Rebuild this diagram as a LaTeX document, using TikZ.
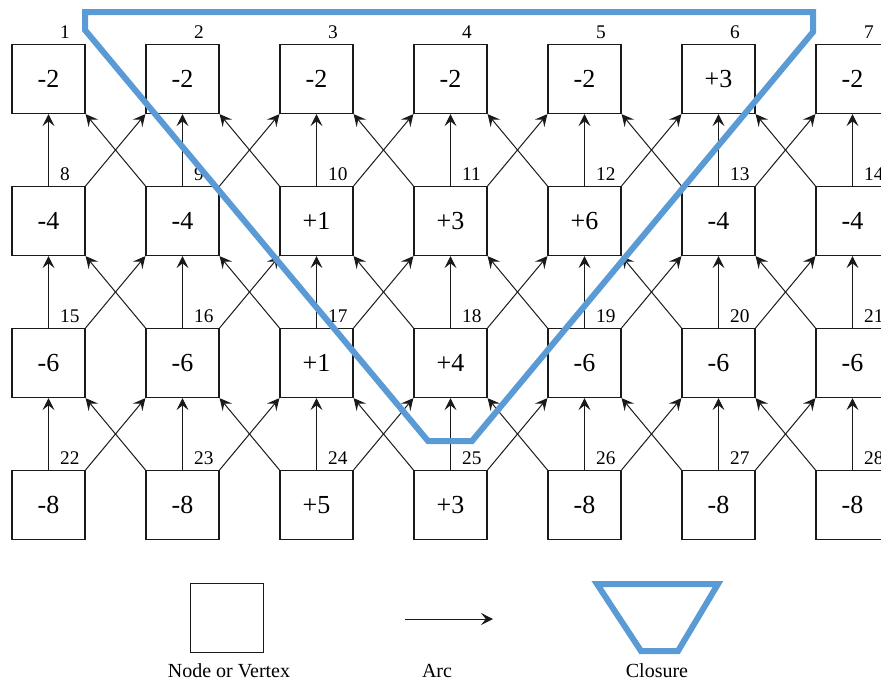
\documentclass[tikz,border=0pt]{standalone}
\usepackage{fontspec}
\setmainfont{Liberation Serif}
\usepackage{tikz}
\usetikzlibrary{arrows.meta}
\definecolor{closureblue}{HTML}{5B9BD5}
\definecolor{inkblack}{HTML}{1A1A1A}
\tikzset{every node/.append style={font=\rmfamily}}

\begin{document}
\begin{tikzpicture}[x=0.75pt,y=-0.75pt,>={Stealth[length=9pt,width=9pt,inset=3.6pt]},
  vertex/.style={draw=inkblack,line width=0.9pt,minimum width=54.75pt,
    minimum height=51.75pt,inner sep=0pt,font=\fontsize{19.5}{22}\selectfont},
  numlbl/.style={inner sep=0pt,anchor=base west,font=\fontsize{14.5}{16}\selectfont},
  arc/.style={->,draw=inkblack,line width=0.75pt},
  closure/.style={draw=closureblue,line width=4.5pt,line join=miter},
  legtext/.style={inner sep=0pt,anchor=base,font=\fontsize{15}{17}\selectfont}]
  \useasboundingbox (0,0) rectangle (881,679);
  \clip (0,0) rectangle (881,679);
  % vertices, numbered row by row
  \foreach \val [count=\i] in {-2,-2,-2,-2,-2,+3,-2,
                               -4,-4,+1,+3,+6,-4,-4,
                               -6,-6,+1,+4,-6,-6,-6,
                               -8,-8,+5,+3,-8,-8,-8} {
    \pgfmathtruncatemacro\c{mod(\i-1,7)}
    \pgfmathtruncatemacro\r{div(\i-1,7)}
    \node[vertex] (v\i) at ({48.5+134*\c},{79+142*\r}) {\val};
    \node[numlbl] (n\i) at ([xshift=8.6pt,yshift=3.8pt]v\i.north) {\i};
  }
  % arcs up to the row above
  \foreach \i in {8,...,28} {
    \pgfmathtruncatemacro\u{\i-7}
    \pgfmathtruncatemacro\c{mod(\i-1,7)}
    \draw[arc] (v\i.north) -- (v\u.south);
    \ifnum\c<6
      \pgfmathtruncatemacro\ur{\u+1}
      \draw[arc] (v\i.north east) -- (v\ur.south west);
    \fi
    \ifnum\c>0
      \pgfmathtruncatemacro\ul{\u-1}
      \draw[arc] (v\i.north west) -- (v\ul.south east);
    \fi
  }
  % the closure
  \draw[closure] (85,30) -- (85,12) -- (813,12) -- (813,32)
    -- (472,441) -- (428,441) -- cycle;
  % legend
  \node[vertex] (legvertex) at (227,618) {};
  \node[legtext] (legvertexlbl) at (229,677) {Node or Vertex};
  \coordinate (arcfrom) at (405,619);
  \coordinate (arcto) at (493,619);
  \draw[arc] (arcfrom) -- (arcto);
  \node[legtext] (legarclbl) at (437,677) {Arc};
  \draw[closure] (597,584) -- (718,584) -- (678,651) -- (641,651) -- cycle;
  \node[legtext] (legclosurelbl) at (657,677) {Closure};
\end{tikzpicture}
\end{document}
